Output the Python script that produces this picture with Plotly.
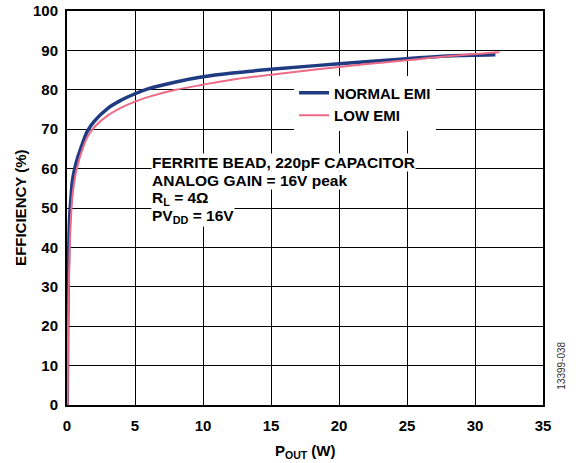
import plotly.graph_objects as go

# Efficiency vs output power
normal_pout = [0.02, 0.05, 0.1, 0.15, 0.2, 0.3, 0.4, 0.6, 0.8, 1.0, 1.5, 2, 3, 4, 5, 6, 8, 10, 12, 15, 20, 25, 28, 31.5]
normal_eff = [0, 20, 35, 43, 48, 53, 57, 60.5, 63, 65, 69.5, 72, 75.3, 77.4, 79, 80.3, 82, 83.3, 84.2, 85.2, 86.6, 87.9, 88.6, 88.9]

low_pout = [0.05, 0.1, 0.2, 0.3, 0.4, 0.6, 0.8, 1.0, 1.5, 2, 3, 4, 5, 6, 8, 10, 12, 15, 20, 25, 28, 31.8]
low_eff = [0, 25, 40, 48, 53, 58, 61, 63.5, 68, 70.5, 73.5, 75.5, 77, 78.2, 80, 81.3, 82.5, 83.8, 85.8, 87.5, 88.5, 89.5]

note_lines = [
    "FERRITE BEAD, 220pF CAPACITOR",
    "ANALOG GAIN = 16V peak",
    "R<sub>L</sub> = 4Ω",
    "PV<sub>DD</sub> = 16V",
]
note_y = [61.5, 57.0, 52.5, 47.8]

FONT = "Liberation Sans, Arial, sans-serif"

fig = go.Figure()

fig.add_trace(go.Scatter(
    x=normal_pout, y=normal_eff, mode="lines", name="<b>NORMAL EMI</b>",
    line=dict(color="#1f3b82", width=3.5, shape="spline"),
))
fig.add_trace(go.Scatter(
    x=low_pout, y=low_eff, mode="lines", name="<b>LOW EMI</b>",
    line=dict(color="#ec6a86", width=2, shape="spline"),
))

# test conditions block, each line on its own white patch
for txt, yy in zip(note_lines, note_y):
    fig.add_annotation(
        x=6.2, y=yy, xref="x", yref="y", text="<b>" + txt + "</b>",
        showarrow=False, xanchor="left", yanchor="middle",
        bgcolor="white", borderpad=0,
        font=dict(family=FONT, size=15.5, color="black"),
    )

# axis titles
fig.add_annotation(
    x=-0.099, y=0.5, xref="paper", yref="paper", text="<b>EFFICIENCY (%)</b>",
    showarrow=False, textangle=-90, xanchor="center", yanchor="middle",
    font=dict(family=FONT, size=15, color="black"),
)
fig.add_annotation(
    x=0.5, y=-0.119, xref="paper", yref="paper", text="<b>P<sub>OUT</sub> (W)</b>",
    showarrow=False, xanchor="center", yanchor="middle",
    font=dict(family=FONT, size=15, color="black"),
)

fig.add_annotation(
    x=1.04, y=0.10, xref="paper", yref="paper", text="13399-038",
    showarrow=False, textangle=-90, xanchor="center", yanchor="middle",
    font=dict(family=FONT, size=10, color="#333"),
)

axis_common = dict(
    showline=True, linecolor="black", linewidth=2, mirror=True,
    showgrid=True, gridcolor="black", gridwidth=1.2,
    zeroline=False, ticks="", automargin=False,
    tickfont=dict(family=FONT, size=15, color="black", weight="bold"),
)

fig.update_layout(
    width=576, height=463,
    margin=dict(l=67, r=33, t=11, b=58),
    plot_bgcolor="white", paper_bgcolor="white",
    font=dict(family=FONT, color="black"),
    xaxis=dict(range=[0, 35], dtick=5, tick0=0, ticklabelstandoff=6, **axis_common),
    yaxis=dict(range=[0, 100], dtick=10, tick0=0, ticklabelstandoff=4, **axis_common),
    legend=dict(
        x=0.477, y=0.834, xanchor="left", yanchor="top",
        bgcolor="white", borderwidth=0,
        font=dict(family=FONT, size=15, color="black"),
        itemwidth=30, tracegroupgap=0,
    ),
)

fig.write_html("out.html", config={"displayModeBar": False},
               post_script="document.body.style.margin='0';")
